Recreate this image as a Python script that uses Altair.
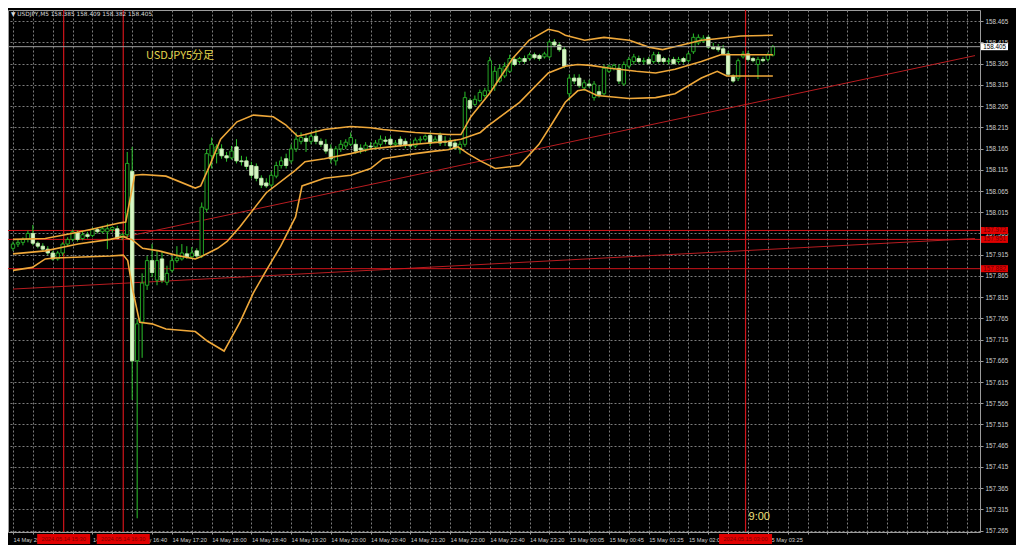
import json
import altair as alt
import numpy as np
import pandas as pd

# ---------------- data ----------------
OPEN = [157.930, 157.940, 157.944, 157.951, 157.965, 157.942, 157.935, 157.928, 157.919, 157.905,
        157.919, 157.940, 157.951, 157.967, 157.953, 157.962, 157.960, 157.974, 157.969, 157.969,
        157.974, 157.976, 157.956, 157.962, 158.111, 157.665, 157.756, 157.843, 157.901, 157.855,
        157.905, 157.850, 157.878, 157.901, 157.905, 157.917, 157.910, 157.924, 157.912, 158.022,
        158.148, 158.153, 158.164, 158.148, 158.143, 158.169, 158.136, 158.136, 158.125, 158.123,
        158.095, 158.084, 158.079, 158.100, 158.125, 158.141, 158.136, 158.164, 158.182, 158.189,
        158.182, 158.194, 158.182, 158.175, 158.164, 158.136, 158.164, 158.171, 158.175, 158.175,
        158.166, 158.164, 158.171, 158.169, 158.175, 158.185, 158.187, 158.175, 158.187, 158.182,
        158.173, 158.171, 158.185, 158.187, 158.196, 158.182, 158.196, 158.182, 158.182, 158.178,
        158.164, 158.175, 158.278, 158.269, 158.278, 158.290, 158.301, 158.313, 158.324, 158.336,
        158.347, 158.375, 158.370, 158.377, 158.377, 158.386, 158.384, 158.381, 158.381, 158.416,
        158.409, 158.398, 158.294, 158.331, 158.331, 158.308, 158.317, 158.285, 158.299, 158.294,
        158.347, 158.354, 158.354, 158.317, 158.359, 158.370, 158.377, 158.370, 158.375, 158.370,
        158.386, 158.377, 158.370, 158.375, 158.370, 158.377, 158.372, 158.393, 158.414, 158.418,
        158.427, 158.404, 158.404, 158.400, 158.388, 158.336, 158.331, 158.381, 158.388, 158.377,
        158.363, 158.375, 158.375, 158.385]
HIGH = [157.946, 157.951, 157.956, 157.972, 157.985, 157.946, 157.942, 157.935, 157.924, 157.924,
        157.944, 157.956, 157.974, 157.972, 157.969, 157.969, 157.979, 157.979, 157.983, 157.988,
        157.981, 157.983, 157.967, 158.157, 158.169, 157.763, 157.871, 157.912, 157.940, 157.924,
        157.924, 157.889, 157.912, 157.935, 157.940, 157.935, 157.933, 157.930, 158.038, 158.164,
        158.191, 158.175, 158.175, 158.157, 158.171, 158.187, 158.148, 158.146, 158.134, 158.130,
        158.102, 158.095, 158.111, 158.134, 158.146, 158.153, 158.175, 158.203, 158.203, 158.198,
        158.203, 158.210, 158.189, 158.187, 158.175, 158.171, 158.185, 158.187, 158.203, 158.187,
        158.175, 158.180, 158.180, 158.185, 158.196, 158.194, 158.194, 158.185, 158.194, 158.189,
        158.182, 158.191, 158.194, 158.198, 158.203, 158.194, 158.203, 158.194, 158.191, 158.187,
        158.182, 158.299, 158.283, 158.290, 158.304, 158.308, 158.381, 158.359, 158.363, 158.368,
        158.386, 158.381, 158.381, 158.384, 158.391, 158.391, 158.388, 158.393, 158.420, 158.423,
        158.414, 158.404, 158.340, 158.340, 158.340, 158.327, 158.327, 158.324, 158.313, 158.363,
        158.363, 158.365, 158.363, 158.370, 158.381, 158.388, 158.384, 158.379, 158.381, 158.393,
        158.393, 158.381, 158.379, 158.381, 158.381, 158.381, 158.393, 158.436, 158.434, 158.432,
        158.432, 158.414, 158.411, 158.409, 158.395, 158.340, 158.377, 158.395, 158.395, 158.381,
        158.381, 158.381, 158.391, 158.409]
LOW = [157.924, 157.933, 157.937, 157.944, 157.937, 157.930, 157.924, 157.914, 157.901, 157.901,
       157.912, 157.933, 157.946, 157.946, 157.949, 157.953, 157.956, 157.965, 157.965, 157.928,
       157.967, 157.951, 157.949, 157.956, 157.573, 157.294, 157.672, 157.832, 157.862, 157.843,
       157.848, 157.843, 157.873, 157.896, 157.901, 157.905, 157.905, 157.905, 157.907, 158.015,
       158.118, 158.130, 158.141, 158.134, 158.139, 158.130, 158.125, 158.116, 158.095, 158.088,
       158.072, 158.072, 158.075, 158.095, 158.118, 158.118, 158.130, 158.157, 158.175, 158.157,
       158.175, 158.175, 158.169, 158.153, 158.130, 158.125, 158.157, 158.164, 158.171, 158.153,
       158.153, 158.157, 158.162, 158.162, 158.169, 158.175, 158.169, 158.171, 158.169, 158.166,
       158.164, 158.166, 158.178, 158.182, 158.171, 158.178, 158.171, 158.171, 158.164, 158.162,
       158.153, 158.169, 158.256, 158.265, 158.274, 158.285, 158.294, 158.301, 158.320, 158.331,
       158.343, 158.359, 158.365, 158.365, 158.372, 158.375, 158.372, 158.377, 158.377, 158.404,
       158.393, 158.354, 158.278, 158.317, 158.308, 158.301, 158.308, 158.278, 158.285, 158.290,
       158.343, 158.349, 158.317, 158.313, 158.354, 158.363, 158.365, 158.363, 158.363, 158.365,
       158.365, 158.365, 158.363, 158.363, 158.365, 158.365, 158.368, 158.388, 158.409, 158.414,
       158.400, 158.398, 158.393, 158.386, 158.336, 158.320, 158.324, 158.377, 158.370, 158.368,
       158.329, 158.368, 158.370, 158.382]
CLOSE = [157.940, 157.944, 157.951, 157.965, 157.942, 157.935, 157.928, 157.919, 157.905, 157.919,
         157.940, 157.951, 157.969, 157.951, 157.962, 157.958, 157.974, 157.969, 157.976, 157.976,
         157.979, 157.953, 157.962, 158.130, 157.665, 157.752, 157.848, 157.901, 157.873, 157.901,
         157.855, 157.871, 157.901, 157.907, 157.919, 157.910, 157.919, 157.912, 158.027, 158.153,
         158.175, 158.169, 158.148, 158.143, 158.159, 158.136, 158.134, 158.123, 158.102, 158.095,
         158.079, 158.077, 158.102, 158.125, 158.136, 158.125, 158.164, 158.187, 158.191, 158.182,
         158.194, 158.182, 158.175, 158.159, 158.141, 158.164, 158.175, 158.180, 158.191, 158.159,
         158.162, 158.173, 158.169, 158.178, 158.187, 158.182, 158.175, 158.178, 158.175, 158.173,
         158.171, 158.185, 158.187, 158.194, 158.178, 158.187, 158.178, 158.180, 158.171, 158.166,
         158.175, 158.285, 158.260, 158.281, 158.297, 158.301, 158.372, 158.347, 158.354, 158.359,
         158.377, 158.363, 158.377, 158.370, 158.386, 158.379, 158.377, 158.388, 158.416, 158.409,
         158.398, 158.359, 158.331, 158.324, 158.313, 158.320, 158.313, 158.317, 158.292, 158.354,
         158.359, 158.361, 158.324, 158.363, 158.375, 158.381, 158.370, 158.372, 158.365, 158.386,
         158.370, 158.370, 158.372, 158.365, 158.375, 158.370, 158.388, 158.427, 158.427, 158.425,
         158.404, 158.400, 158.398, 158.388, 158.340, 158.324, 158.372, 158.388, 158.375, 158.372,
         158.375, 158.372, 158.386, 158.405]

# Bollinger bands (bar position, price)
UPPER_X = [0, 6.5, 11.8, 16.3, 21.6, 22.7, 24.5, 26.1, 30.8, 36.7, 37.8, 39.8, 41.8, 45.1, 48.4, 52.4,
           54.9, 57.3, 58.8, 62.7, 68.0, 72.0, 74.5, 81.0, 87.6, 90.2, 92.2, 96.1, 100.6, 103.9, 107.8,
           109.8, 111.2, 115.1, 119.0, 124.1, 128.0, 130.8, 134.7, 138.6, 141.2, 146.5, 153.0]
UPPER_P = [157.951, 157.953, 157.965, 157.976, 157.990, 157.992, 158.102, 158.104, 158.100, 158.072,
           158.077, 158.130, 158.187, 158.228, 158.244, 158.240, 158.221, 158.194, 158.198, 158.210,
           158.217, 158.214, 158.210, 158.203, 158.198, 158.198, 158.240, 158.297, 158.377, 158.420,
           158.446, 158.441, 158.432, 158.420, 158.427, 158.420, 158.404, 158.398, 158.409, 158.420,
           158.423, 158.430, 158.432]
MID_X = [0, 6.5, 13.1, 19.6, 22.2, 23.1, 23.9, 26.1, 29.4, 32.7, 36.7, 37.8, 41.2, 43.1, 45.7, 51.0,
         56.9, 58.8, 62.7, 68.0, 72.0, 75.9, 81.0, 87.6, 90.2, 94.1, 95.5, 102.0, 107.8, 111.2, 113.7,
         116.3, 120.2, 125.5, 129.4, 133.3, 138.6, 142.5, 145.1, 153.0]
MID_P = [157.917, 157.924, 157.940, 157.951, 157.958, 157.953, 157.951, 157.930, 157.924, 157.914,
         157.905, 157.910, 157.930, 157.946, 157.981, 158.061, 158.114, 158.134, 158.141, 158.153,
         158.164, 158.169, 158.175, 158.182, 158.187, 158.203, 158.217, 158.274, 158.343, 158.359,
         158.363, 158.361, 158.354, 158.347, 158.343, 158.352, 158.370, 158.386, 158.386, 158.386]
LOWER_X = [0, 3.9, 6.5, 8.4, 19.6, 22.2, 23.1, 24.1, 25.5, 28.0, 30.8, 36.7, 39.2, 42.5, 45.7, 48.4,
           51.0, 53.9, 56.9, 58.2, 62.7, 68.0, 72.0, 74.5, 81.0, 84.9, 87.6, 89.6, 91.6, 94.1, 97.1,
           102.0, 105.9, 108.4, 111.2, 113.7, 115.1, 117.6, 124.1, 129.4, 133.3, 138.6, 141.8, 143.7, 153.0]
LOWER_P = [157.878, 157.885, 157.905, 157.907, 157.912, 157.914, 157.901, 157.832, 157.756, 157.752,
           157.740, 157.734, 157.711, 157.688, 157.756, 157.825, 157.878, 157.935, 158.004, 158.077,
           158.095, 158.102, 158.118, 158.141, 158.153, 158.159, 158.162, 158.169, 158.153, 158.136,
           158.118, 158.125, 158.175, 158.221, 158.274, 158.301, 158.304, 158.290, 158.283, 158.285,
           158.294, 158.331, 158.347, 158.336, 158.336]

# horizontal objects
HLINE_P = [157.972, 157.951, 157.882]
HLINE_LABEL = ["157.972", "157.951", "157.882"]
# trend lines: start (pos, price) and end (pos, price)
TREND_X1 = [0.0, 22.2]
TREND_P1 = [157.834, 157.956]
TREND_X2 = [193.7, 193.7]
TREND_P2 = [157.953, 158.384]
# vertical objects
VLINE_POS = [10.2, 22.2, 147.5]
VLINE_LABEL = ["2024.05.14 15:30", "2024.05.14 16:30", "2024.05.15 03:00"]
BID = 158.405
TITLE = "\u25bc USDJPY,M5  158.385 158.409 158.382 158.405"
NOTE = "USDJPY5分足"
NOTE_TIME = "9:00"

Y_TICKS = [round(157.265 + 0.05 * k, 3) for k in range(25)]
X_GRID = list(range(0, 196, 4))
# time labels every 8 bars (empty where the reference's red object labels hide them)
X_LABELS = ["14 May 2024", "", "14 May 16:00", "14 May 16:40", "14 May 17:20",
            "14 May 18:00", "14 May 18:40", "14 May 19:20", "14 May 20:00", "14 May 20:40",
            "14 May 21:20", "14 May 22:00", "14 May 22:40", "14 May 23:20", "15 May 00:05",
            "15 May 00:45", "15 May 01:25", "15 May 02:05", "", "15 May 03:25"]

# ---------------- build ----------------
W, H = 972, 522
FONT = "Liberation Sans"
GRID = "#7c7c7c"
LBL = "#cfcfcf"
BAND = "#efa83a"
RED = "#d0141a"

xs = alt.Scale(domain=[0, 193.7], nice=False, zero=False)
ys = alt.Scale(domain=[157.2617, 158.4914], nice=False, zero=False)

n = len(OPEN)
candles = pd.DataFrame({"i": np.arange(n), "o": OPEN, "h": HIGH, "l": LOW, "c": CLOSE})
candles["dir"] = np.where(candles["c"] >= candles["o"], "bull", "bear")

bands = pd.concat([
    pd.DataFrame({"band": "upper", "x": UPPER_X, "p": UPPER_P}),
    pd.DataFrame({"band": "mid", "x": MID_X, "p": MID_P}),
    pd.DataFrame({"band": "lower", "x": LOWER_X, "p": LOWER_P}),
])
hl = pd.DataFrame({"p": HLINE_P, "label": HLINE_LABEL})
tr = pd.DataFrame({"line": ["a", "b"] * 2,
                   "x": TREND_X1 + TREND_X2,
                   "p": TREND_P1 + TREND_P2})
vl = pd.DataFrame({"pos": VLINE_POS, "label": VLINE_LABEL})
bid = pd.DataFrame({"p": [BID], "label": [f"{BID:.3f}"]})
one = pd.DataFrame({"k": [0]})

label_expr = ("datum.value % 8 == 0 && datum.value <= 152 ? "
              + json.dumps(X_LABELS) + "[datum.value / 8] : ''")

XA = alt.Axis(values=X_GRID, grid=True, gridColor=GRID, gridDash=[2, 2], gridWidth=1,
              labelExpr=label_expr, labelAlign="left", labelBaseline="top",
              labelColor=LBL, labelFont=FONT, labelFontSize=5.7, labelPadding=2,
              labelOverlap=False, labelFlush=False, labelBound=False,
              tickSize=2, tickColor="#9a9a9a", domain=False, title=None)
YA = alt.Axis(values=Y_TICKS, orient="right", grid=True, gridColor=GRID, gridDash=[2, 2],
              format=".3f", labelColor=LBL, labelFont=FONT, labelFontSize=6.3,
              labelPadding=2, labelOverlap=False, labelFlush=False, labelBaseline="middle",
              tickSize=3, tickColor="#9a9a9a", domain=False, title=None)


def X(f):
    return alt.X(f, scale=xs, axis=XA, title=None)


def Y(f):
    return alt.Y(f, scale=ys, axis=YA, title=None)


hlines = alt.Chart(hl).mark_rule(color=RED, strokeWidth=1).encode(y=Y("p:Q"))
trends = alt.Chart(tr).mark_line(color="#b81c20", strokeWidth=1, clip=True).encode(
    x=X("x:Q"), y=Y("p:Q"), detail="line:N")
vlines = alt.Chart(vl).mark_rule(color=RED, strokeWidth=1.2).encode(x=X("pos:Q"))

wicks = alt.Chart(candles).mark_rule(color="#2cc22c", strokeWidth=1, clip=True).encode(
    x=X("i:Q"), y=Y("l:Q"), y2="h:Q")
bodies = alt.Chart(candles).mark_bar(size=3.4, strokeWidth=0.9, clip=True).encode(
    x=X("i:Q"), y=Y("o:Q"), y2="c:Q",
    fill=alt.Fill("dir:N", scale=alt.Scale(domain=["bull", "bear"], range=["#000000", "#d8f6c6"]), legend=None),
    stroke=alt.Stroke("dir:N", scale=alt.Scale(domain=["bull", "bear"], range=["#28b428", "#c4eeb0"]), legend=None),
)
band_lines = alt.Chart(bands).mark_line(color=BAND, strokeWidth=1.6, clip=True).encode(
    x=X("x:Q"), y=Y("p:Q"), detail="band:N")

bid_line = alt.Chart(bid).mark_rule(color="#9c9c9c", strokeWidth=1).encode(y=Y("p:Q"))

RBOX = "M-1,-0.26H1V0.26H-1Z"
red_boxes = alt.Chart(hl).mark_point(shape=RBOX, size=729, filled=True, color="#e10000", opacity=1).encode(
    x=alt.value(W + 14.5), y=Y("p:Q"))
red_box_txt = alt.Chart(hl).mark_text(font=FONT, fontSize=6.3, color="#6a0000").encode(
    x=alt.value(W + 14.5), y=Y("p:Q"), text="label:N")
bid_box = alt.Chart(bid).mark_point(shape=RBOX, size=729, filled=True, color="#ffffff", opacity=1).encode(
    x=alt.value(W + 14.5), y=Y("p:Q"))
bid_txt = alt.Chart(bid).mark_text(font=FONT, fontSize=6.3, color="#000000").encode(
    x=alt.value(W + 14.5), y=Y("p:Q"), text="label:N")

BBOX = "M-1,-0.19H1V0.19H-1Z"
time_boxes = alt.Chart(vl).mark_point(shape=BBOX, size=2809, filled=True, color="#e10000", opacity=1).encode(
    x=X("pos:Q"), y=alt.value(H + 7))
time_txt = alt.Chart(vl).mark_text(font=FONT, fontSize=5.7, color="#7a0000").encode(
    x=X("pos:Q"), y=alt.value(H + 7), text="label:N")

title_txt = alt.Chart(one).mark_text(text=TITLE, font="DejaVu Sans", fontSize=5.8, color="#d8d8d8",
                                     align="left", baseline="middle").encode(
    x=alt.value(3), y=alt.value(4))
note_txt = alt.Chart(one).mark_text(text=NOTE, font="Noto Sans CJK JP", fontSize=11, color="#e4d64c",
                                    align="left", baseline="middle").encode(
    x=alt.value(138), y=alt.value(46))
time_note = alt.Chart(vl.iloc[[2]]).mark_text(text=NOTE_TIME, font=FONT, fontSize=11, color="#f2e27c",
                                              align="left", baseline="middle", dx=3).encode(
    x=X("pos:Q"), y=alt.value(H - 15))

chart = alt.layer(
    trends, hlines, vlines, wicks, bodies, band_lines, bid_line,
    red_boxes, red_box_txt, bid_box, bid_txt, time_boxes, time_txt,
    title_txt, note_txt, time_note,
).properties(
    width=W, height=H,
    padding={"left": 0, "top": 2, "right": 36, "bottom": 13},
    autosize=alt.AutoSizeParams(type="none"),
    background="#000000",
).configure_view(stroke="#9c9c9c", strokeWidth=1)

chart.save("out.html", embed_options={"renderer": "svg", "actions": False})
